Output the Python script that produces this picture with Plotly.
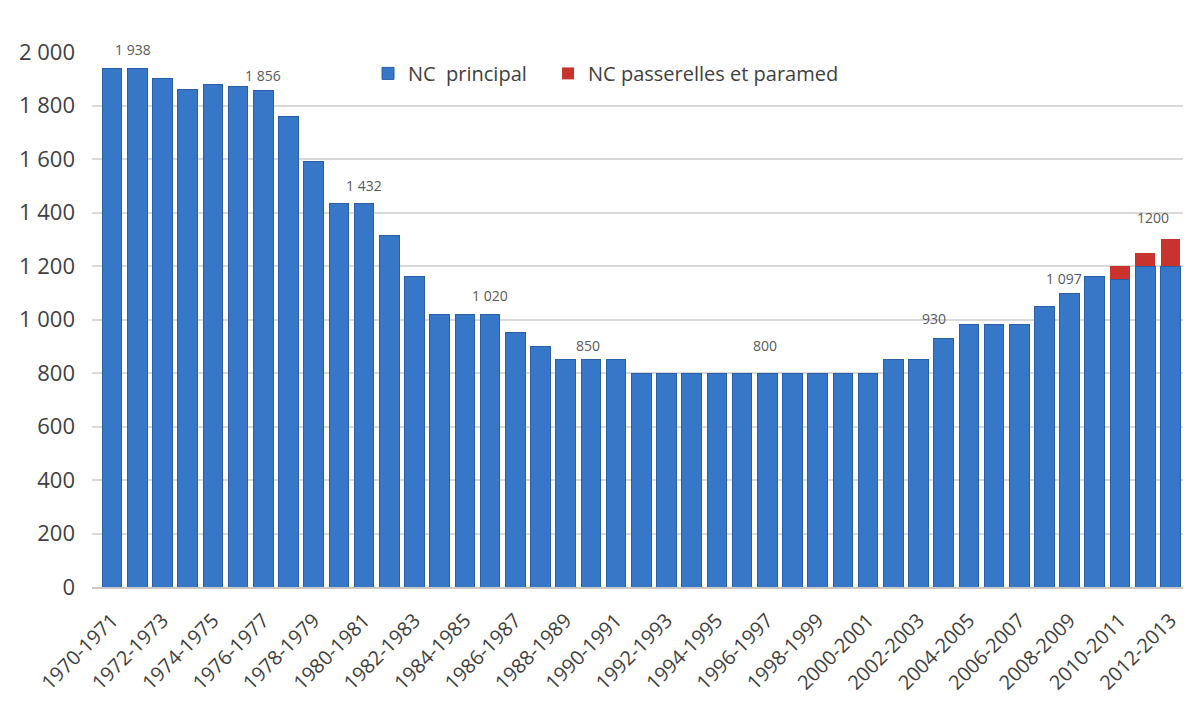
import plotly.graph_objects as go

# Academic years 1970-1971 ... 2012-2013
years = [f"{y}-{y + 1}" for y in range(1970, 2013)]

nc_principal = [
    1938, 1938, 1900, 1860, 1880, 1870, 1856, 1760, 1590, 1432,
    1432, 1315, 1160, 1020, 1020, 1020, 950, 900, 850, 850,
    850, 800, 800, 800, 800, 800, 800, 800, 800, 800,
    800, 850, 850, 930, 980, 980, 980, 1050, 1097, 1160,
    1150, 1200, 1200,
]

nc_passerelles = [
    0, 0, 0, 0, 0, 0, 0, 0, 0, 0,
    0, 0, 0, 0, 0, 0, 0, 0, 0, 0,
    0, 0, 0, 0, 0, 0, 0, 0, 0, 0,
    0, 0, 0, 0, 0, 0, 0, 0, 0, 0,
    50, 50, 100,
]

# Years whose main quota is written above the bar
labelled_years = ["1971-1972", "1976-1977", "1980-1981", "1985-1986", "1989-1990",
                  "1996-1997", "2003-2004", "2008-2009", "2012-2013"]
plain_number_years = {"2012-2013"}

y_ticks = [0, 200, 400, 600, 800, 1000, 1200, 1400, 1600, 1800, 2000]

TEXT = "#3f3f3f"
BLUE = "#3777c8"
RED = "#c8332e"

fig = go.Figure()
fig.add_trace(go.Bar(
    x=years, y=nc_principal, name="NC  principal",
    marker=dict(color=BLUE, line=dict(color="#2a5ea6", width=1)),
    legend="legend", showlegend=True,
))
fig.add_trace(go.Bar(
    x=years, y=nc_passerelles, name="NC passerelles et paramed",
    marker=dict(color=RED, line=dict(width=0)),
    legend="legend2", showlegend=True,
))


def fmt(value, year):
    if year in plain_number_years:
        return str(value)
    return f"{value:,}".replace(",", " ")


# label placement tweaks (pixels): year -> (xshift, yshift)
label_offsets = {
    "1971-1972": (-4, 16), "1976-1977": (0, 12), "1980-1981": (0, 15),
    "1985-1986": (0, 15), "1989-1990": (-3, 11), "1996-1997": (-2, 24),
    "2003-2004": (-10, 16), "2008-2009": (-6, 12), "2012-2013": (-17, 18),
}

for yr in labelled_years:
    i = years.index(yr)
    total = nc_principal[i] + nc_passerelles[i]
    dx, dy = label_offsets[yr]
    fig.add_annotation(
        x=yr, y=total, text=fmt(nc_principal[i], yr),
        showarrow=False, yanchor="bottom", xshift=dx, yshift=dy - 8,
        font=dict(family="Open Sans", size=14, color="#595959"),
    )

legend_style = dict(
    orientation="h", y=0.96, xanchor="left", yanchor="middle",
    font=dict(family="Open Sans", size=20, color=TEXT),
    bgcolor="rgba(0,0,0,0)", itemwidth=30,
)

fig.update_layout(
    width=1200, height=702,
    margin=dict(l=92, r=17, t=52, b=115),
    paper_bgcolor="white", plot_bgcolor="white",
    barmode="stack", bargap=0.22,
    separators=", ",
    showlegend=True,
    font=dict(family="Open Sans", color=TEXT),
    legend=dict(x=0.253, **legend_style),
    legend2=dict(x=0.418, **legend_style),
    xaxis=dict(
        type="category", range=[-0.8, 42.5],
        tickmode="array", tickvals=years[::2], ticktext=years[::2],
        tickangle=-45, tickfont=dict(family="Open Sans", size=20, color=TEXT),
        showgrid=False, showline=True, linecolor="#c8c8c8", linewidth=1.5,
        ticks="", ticklabelstandoff=12, automargin=False,
    ),
    yaxis=dict(
        range=[0, 2000], tickvals=y_ticks, tickformat=",d",
        tickfont=dict(family="Open Sans", size=22, color=TEXT),
        showgrid=True, gridcolor="#d9d9d9", gridwidth=1.5,
        zeroline=False, showline=False, ticks="", ticklabelstandoff=16,
        automargin=False,
    ),
)

fig.write_html("out.html")
